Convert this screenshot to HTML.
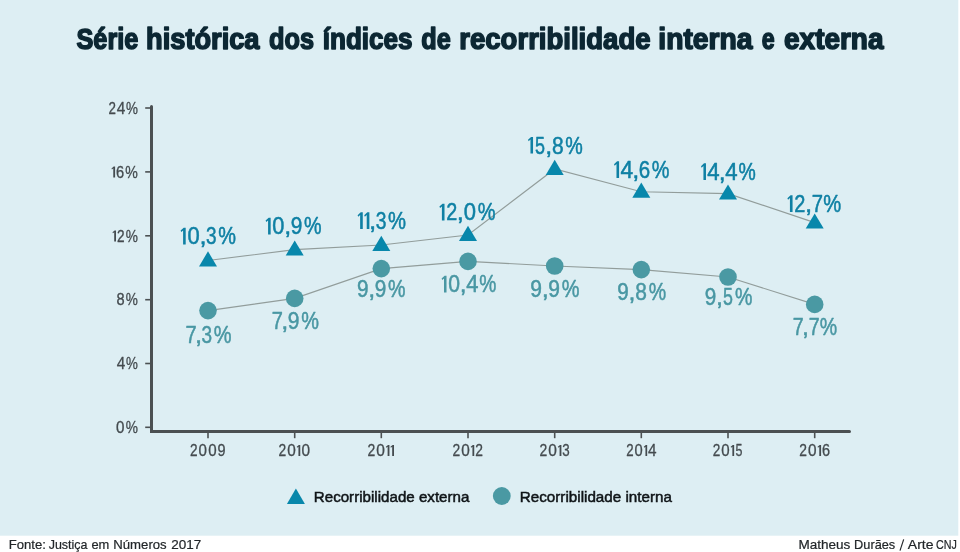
<!DOCTYPE html>
<html lang="pt-BR"><head><meta charset="utf-8"><title>Série histórica dos índices de recorribilidade interna e externa</title>
<style>html,body{margin:0;padding:0;background:#fff;}body{width:960px;height:552px;overflow:hidden;font-family:"Liberation Sans",sans-serif;}svg{display:block;will-change:transform;}text{font-family:"Liberation Sans",sans-serif;}</style></head><body>
<svg width="960" height="552" viewBox="0 0 960 552">
<rect x="0" y="0" width="958.3" height="535.7" fill="#ddeef3"/>
<g font-weight="bold" fill="#0c2733" stroke="#0c2733" stroke-width="1.6" stroke-linejoin="round">
<text x="76.50" y="49.40" font-size="30.0" fill="#0c2733" font-weight="bold" textLength="61.80" lengthAdjust="spacingAndGlyphs" >Série</text>
<text x="146.10" y="49.40" font-size="30.0" fill="#0c2733" font-weight="bold" textLength="113.40" lengthAdjust="spacingAndGlyphs" >histórica</text>
<text x="269.05" y="49.40" font-size="30.0" fill="#0c2733" font-weight="bold" textLength="44.95" lengthAdjust="spacingAndGlyphs" >dos</text>
<text x="322.80" y="49.40" font-size="30.0" fill="#0c2733" font-weight="bold" textLength="89.70" lengthAdjust="spacingAndGlyphs" >índices</text>
<text x="421.30" y="49.40" font-size="30.0" fill="#0c2733" font-weight="bold" textLength="29.45" lengthAdjust="spacingAndGlyphs" >de</text>
<text x="459.30" y="49.40" font-size="30.0" fill="#0c2733" font-weight="bold" textLength="191.20" lengthAdjust="spacingAndGlyphs" >recorribilidade</text>
<text x="658.30" y="49.40" font-size="30.0" fill="#0c2733" font-weight="bold" textLength="94.20" lengthAdjust="spacingAndGlyphs" >interna</text>
<text x="761.70" y="49.40" font-size="30.0" fill="#0c2733" font-weight="bold" textLength="12.90" lengthAdjust="spacingAndGlyphs" >e</text>
<text x="784.05" y="49.40" font-size="30.0" fill="#0c2733" font-weight="bold" textLength="99.45" lengthAdjust="spacingAndGlyphs" >externa</text>
</g>
<g stroke="#4b5052" fill="none" stroke-linecap="round">
<path d="M151.5 106.5 V431.4 H849.5" stroke-width="3" stroke-linejoin="miter"/>
<line x1="145.2" y1="108.0" x2="150" y2="108.0" stroke-width="1.6" stroke-linecap="butt"/>
<line x1="145.2" y1="171.9" x2="150" y2="171.9" stroke-width="1.6" stroke-linecap="butt"/>
<line x1="145.2" y1="235.8" x2="150" y2="235.8" stroke-width="1.6" stroke-linecap="butt"/>
<line x1="145.2" y1="299.7" x2="150" y2="299.7" stroke-width="1.6" stroke-linecap="butt"/>
<line x1="145.2" y1="363.5" x2="150" y2="363.5" stroke-width="1.6" stroke-linecap="butt"/>
<line x1="145.2" y1="427.3" x2="150" y2="427.3" stroke-width="1.6" stroke-linecap="butt"/>
<line x1="208.0" y1="432" x2="208.0" y2="438.2" stroke-width="1.6" stroke-linecap="butt"/>
<line x1="294.7" y1="432" x2="294.7" y2="438.2" stroke-width="1.6" stroke-linecap="butt"/>
<line x1="381.3" y1="432" x2="381.3" y2="438.2" stroke-width="1.6" stroke-linecap="butt"/>
<line x1="468.0" y1="432" x2="468.0" y2="438.2" stroke-width="1.6" stroke-linecap="butt"/>
<line x1="554.7" y1="432" x2="554.7" y2="438.2" stroke-width="1.6" stroke-linecap="butt"/>
<line x1="641.3" y1="432" x2="641.3" y2="438.2" stroke-width="1.6" stroke-linecap="butt"/>
<line x1="728.0" y1="432" x2="728.0" y2="438.2" stroke-width="1.6" stroke-linecap="butt"/>
<line x1="814.7" y1="432" x2="814.7" y2="438.2" stroke-width="1.6" stroke-linecap="butt"/>
</g>
<g transform="translate(109.00,113.70)" font-size="15.58" fill="#444b4f" stroke="#444b4f" stroke-width="0.3" stroke-linejoin="round"><text transform="matrix(0.8572 0 0 1 -0.52 0)">2</text><text transform="matrix(0.9889 0 0 1 7.66 0)">4</text><text transform="matrix(0.8624 0 0 1 16.88 0)">%</text></g>
<g transform="translate(111.50,177.60)" font-size="15.58" fill="#444b4f" stroke="#444b4f" stroke-width="0.3" stroke-linejoin="round"><path d="M2.19 -11.10 L3.60 -11.10 L3.60 0.00 L1.77 0.00 L1.77 -9.31 L0.46 -8.21 L0.00 -9.21Z" stroke="none"/><text transform="matrix(0.9408 0 0 1 4.49 0)">6</text><text transform="matrix(0.9077 0 0 1 13.78 0)">%</text></g>
<g transform="translate(112.50,241.50)" font-size="15.58" fill="#444b4f" stroke="#444b4f" stroke-width="0.3" stroke-linejoin="round"><path d="M2.12 -11.10 L3.49 -11.10 L3.49 0.00 L1.71 0.00 L1.71 -9.31 L0.45 -8.21 L0.00 -9.21Z" stroke="none"/><text transform="matrix(0.8742 0 0 1 4.60 0)">2</text><text transform="matrix(0.8792 0 0 1 13.15 0)">%</text></g>
<g transform="translate(117.00,305.40)" font-size="15.58" fill="#444b4f" stroke="#444b4f" stroke-width="0.3" stroke-linejoin="round"><text transform="matrix(0.9369 0 0 1 -0.48 0)">8</text><text transform="matrix(0.8741 0 0 1 8.72 0)">%</text></g>
<g transform="translate(117.00,369.20)" font-size="15.58" fill="#444b4f" stroke="#444b4f" stroke-width="0.3" stroke-linejoin="round"><text transform="matrix(0.9822 0 0 1 -0.20 0)">4</text><text transform="matrix(0.8566 0 0 1 8.96 0)">%</text></g>
<g transform="translate(116.50,433.00)" font-size="15.58" fill="#444b4f" stroke="#444b4f" stroke-width="0.3" stroke-linejoin="round"><text transform="matrix(0.9731 0 0 1 -0.44 0)">0</text><text transform="matrix(0.8810 0 0 1 9.13 0)">%</text></g>
<g transform="translate(190.50,456.00)" font-size="15.58" fill="#444b4f" stroke="#444b4f" stroke-width="0.3" stroke-linejoin="round"><text transform="matrix(0.8737 0 0 1 -0.53 0)">2</text><text transform="matrix(0.9705 0 0 1 8.05 0)">0</text><text transform="matrix(0.9705 0 0 1 17.63 0)">0</text><text transform="matrix(0.9282 0 0 1 26.99 0)">9</text></g>
<g transform="translate(279.00,456.00)" font-size="15.58" fill="#444b4f" stroke="#444b4f" stroke-width="0.3" stroke-linejoin="round"><text transform="matrix(0.8874 0 0 1 -0.55 0)">2</text><text transform="matrix(0.9856 0 0 1 8.17 0)">0</text><path d="M19.87 -11.10 L21.26 -11.10 L21.26 0.00 L19.45 0.00 L19.45 -9.31 L18.17 -8.21 L17.72 -9.21Z" stroke="none"/><text transform="matrix(0.9856 0 0 1 22.41 0)">0</text></g>
<g transform="translate(368.00,456.00)" font-size="15.58" fill="#444b4f" stroke="#444b4f" stroke-width="0.3" stroke-linejoin="round"><text transform="matrix(0.8955 0 0 1 -0.55 0)">2</text><text transform="matrix(0.9945 0 0 1 8.23 0)">0</text><path d="M20.04 -11.10 L21.44 -11.10 L21.44 0.00 L19.62 0.00 L19.62 -9.31 L18.33 -8.21 L17.87 -9.21Z" stroke="none"/><path d="M24.60 -11.10 L26.00 -11.10 L26.00 0.00 L24.18 0.00 L24.18 -9.31 L22.88 -8.21 L22.43 -9.21Z" stroke="none"/></g>
<g transform="translate(453.00,456.00)" font-size="15.58" fill="#444b4f" stroke="#444b4f" stroke-width="0.3" stroke-linejoin="round"><text transform="matrix(0.8865 0 0 1 -0.54 0)">2</text><text transform="matrix(0.9846 0 0 1 8.16 0)">0</text><path d="M19.85 -11.10 L21.24 -11.10 L21.24 0.00 L19.44 0.00 L19.44 -9.31 L18.15 -8.21 L17.70 -9.21Z" stroke="none"/><text transform="matrix(0.8865 0 0 1 22.36 0)">2</text></g>
<g transform="translate(540.00,456.00)" font-size="15.58" fill="#444b4f" stroke="#444b4f" stroke-width="0.3" stroke-linejoin="round"><text transform="matrix(0.8934 0 0 1 -0.55 0)">2</text><text transform="matrix(0.9923 0 0 1 8.22 0)">0</text><path d="M20.00 -11.10 L21.40 -11.10 L21.40 0.00 L19.58 0.00 L19.58 -9.31 L18.29 -8.21 L17.83 -9.21Z" stroke="none"/><text transform="matrix(0.8585 0 0 1 22.30 0)">3</text></g>
<g transform="translate(626.75,456.00)" font-size="15.58" fill="#444b4f" stroke="#444b4f" stroke-width="0.3" stroke-linejoin="round"><text transform="matrix(0.8508 0 0 1 -0.52 0)">2</text><text transform="matrix(0.9452 0 0 1 7.85 0)">0</text><path d="M19.09 -11.10 L20.42 -11.10 L20.42 0.00 L18.69 0.00 L18.69 -9.31 L17.45 -8.21 L17.02 -9.21Z" stroke="none"/><text transform="matrix(0.9817 0 0 1 21.29 0)">4</text></g>
<g transform="translate(713.25,456.00)" font-size="15.58" fill="#444b4f" stroke="#444b4f" stroke-width="0.3" stroke-linejoin="round"><text transform="matrix(0.8715 0 0 1 -0.53 0)">2</text><text transform="matrix(0.9681 0 0 1 8.03 0)">0</text><path d="M19.53 -11.10 L20.90 -11.10 L20.90 0.00 L19.12 0.00 L19.12 -9.31 L17.86 -8.21 L17.41 -9.21Z" stroke="none"/><text transform="matrix(0.8004 0 0 1 22.19 0)">5</text></g>
<g transform="translate(799.80,456.00)" font-size="15.58" fill="#444b4f" stroke="#444b4f" stroke-width="0.3" stroke-linejoin="round"><text transform="matrix(0.8884 0 0 1 -0.55 0)">2</text><text transform="matrix(0.9867 0 0 1 8.17 0)">0</text><path d="M19.89 -11.10 L21.28 -11.10 L21.28 0.00 L19.48 0.00 L19.48 -9.31 L18.19 -8.21 L17.74 -9.21Z" stroke="none"/><text transform="matrix(0.9255 0 0 1 22.16 0)">6</text></g>
<polyline points="208.0,260.5 294.7,249.6 381.3,245.0 468.0,235.0 554.7,169.0 641.3,191.7 728.0,193.6 814.7,222.6" fill="none" stroke="#929d9b" stroke-width="1.15"/>
<polyline points="208.0,310.6 294.7,298.4 381.3,268.6 468.0,261.4 554.7,266.0 641.3,269.6 728.0,277.0 814.7,304.4" fill="none" stroke="#929d9b" stroke-width="1.15"/>
<path d="M208.0 251.3 L217.0 266.5 H199.0 Z" fill="#0887ab"/>
<path d="M294.7 240.4 L303.7 255.6 H285.7 Z" fill="#0887ab"/>
<path d="M381.3 235.8 L390.3 251.0 H372.3 Z" fill="#0887ab"/>
<path d="M468.0 225.8 L477.0 241.0 H459.0 Z" fill="#0887ab"/>
<path d="M554.7 159.8 L563.7 175.0 H545.7 Z" fill="#0887ab"/>
<path d="M641.3 182.5 L650.3 197.7 H632.3 Z" fill="#0887ab"/>
<path d="M728.0 184.4 L737.0 199.6 H719.0 Z" fill="#0887ab"/>
<path d="M814.7 213.4 L823.7 228.6 H805.7 Z" fill="#0887ab"/>
<circle cx="208.0" cy="310.6" r="8.8" fill="#4a99a3"/>
<circle cx="294.7" cy="298.4" r="8.8" fill="#4a99a3"/>
<circle cx="381.3" cy="268.6" r="8.8" fill="#4a99a3"/>
<circle cx="468.0" cy="261.4" r="8.8" fill="#4a99a3"/>
<circle cx="554.7" cy="266.0" r="8.8" fill="#4a99a3"/>
<circle cx="641.3" cy="269.6" r="8.8" fill="#4a99a3"/>
<circle cx="728.0" cy="277.0" r="8.8" fill="#4a99a3"/>
<circle cx="814.7" cy="304.4" r="8.8" fill="#4a99a3"/>
<g transform="translate(180.60,244.40)" font-size="23.38" fill="#0f80a4" stroke="#0f80a4" stroke-width="0.5" stroke-linejoin="round"><path d="M3.10 -16.70 L5.10 -16.70 L5.10 0.00 L2.50 0.00 L2.50 -14.00 L0.65 -12.35 L0.00 -13.85Z" stroke="none"/><text transform="matrix(0.9396 0 0 1 6.79 0)">0</text><text transform="matrix(1.0897 0 0 1 18.86 0)">,</text><text transform="matrix(0.8120 0 0 1 25.43 0)">3</text><text transform="matrix(0.8526 0 0 1 37.54 0)">%</text></g>
<g transform="translate(265.60,234.40)" font-size="23.38" fill="#0f80a4" stroke="#0f80a4" stroke-width="0.5" stroke-linejoin="round"><path d="M3.07 -16.70 L5.05 -16.70 L5.05 0.00 L2.48 0.00 L2.48 -14.00 L0.64 -12.35 L0.00 -13.85Z" stroke="none"/><text transform="matrix(0.9309 0 0 1 6.73 0)">0</text><text transform="matrix(1.0780 0 0 1 18.70 0)">,</text><text transform="matrix(0.8899 0 0 1 25.24 0)">9</text><text transform="matrix(0.8447 0 0 1 38.50 0)">%</text></g>
<g transform="translate(357.60,229.00)" font-size="23.38" fill="#0f80a4" stroke="#0f80a4" stroke-width="0.5" stroke-linejoin="round"><path d="M3.15 -16.70 L5.18 -16.70 L5.18 0.00 L2.54 0.00 L2.54 -14.00 L0.66 -12.35 L0.00 -13.85Z" stroke="none"/><path d="M9.74 -16.70 L11.77 -16.70 L11.77 0.00 L9.13 0.00 L9.13 -14.00 L7.26 -12.35 L6.60 -13.85Z" stroke="none"/><text transform="matrix(1.1090 0 0 1 11.52 0)">,</text><text transform="matrix(0.8247 0 0 1 18.19 0)">3</text><text transform="matrix(0.8656 0 0 1 30.48 0)">%</text></g>
<g transform="translate(439.40,220.40)" font-size="23.38" fill="#0f80a4" stroke="#0f80a4" stroke-width="0.5" stroke-linejoin="round"><path d="M3.11 -16.70 L5.11 -16.70 L5.11 0.00 L2.50 0.00 L2.50 -14.00 L0.65 -12.35 L0.00 -13.85Z" stroke="none"/><text transform="matrix(0.8467 0 0 1 6.77 0)">2</text><text transform="matrix(1.0920 0 0 1 17.39 0)">,</text><text transform="matrix(0.9414 0 0 1 24.34 0)">0</text><text transform="matrix(0.8541 0 0 1 38.31 0)">%</text></g>
<g transform="translate(528.00,153.60)" font-size="23.38" fill="#0f80a4" stroke="#0f80a4" stroke-width="0.5" stroke-linejoin="round"><path d="M3.07 -16.70 L5.04 -16.70 L5.04 0.00 L2.47 0.00 L2.47 -14.00 L0.64 -12.35 L0.00 -13.85Z" stroke="none"/><text transform="matrix(0.7670 0 0 1 6.95 0)">5</text><text transform="matrix(1.0754 0 0 1 17.18 0)">,</text><text transform="matrix(0.9012 0 0 1 23.96 0)">8</text><text transform="matrix(0.8430 0 0 1 37.33 0)">%</text></g>
<g transform="translate(614.00,178.00)" font-size="23.38" fill="#0f80a4" stroke="#0f80a4" stroke-width="0.5" stroke-linejoin="round"><path d="M3.09 -16.70 L5.08 -16.70 L5.08 0.00 L2.49 0.00 L2.49 -14.00 L0.65 -12.35 L0.00 -13.85Z" stroke="none"/><text transform="matrix(0.9726 0 0 1 6.40 0)">4</text><text transform="matrix(1.0849 0 0 1 18.20 0)">,</text><text transform="matrix(0.8774 0 0 1 24.72 0)">6</text><text transform="matrix(0.8494 0 0 1 37.80 0)">%</text></g>
<g transform="translate(701.00,180.00)" font-size="23.38" fill="#0f80a4" stroke="#0f80a4" stroke-width="0.5" stroke-linejoin="round"><path d="M3.02 -16.70 L4.97 -16.70 L4.97 0.00 L2.44 0.00 L2.44 -14.00 L0.63 -12.35 L0.00 -13.85Z" stroke="none"/><text transform="matrix(0.9507 0 0 1 6.27 0)">4</text><text transform="matrix(1.0569 0 0 1 17.82 0)">,</text><text transform="matrix(0.9507 0 0 1 24.21 0)">4</text><text transform="matrix(0.8305 0 0 1 37.58 0)">%</text></g>
<g transform="translate(787.40,212.00)" font-size="23.38" fill="#0f80a4" stroke="#0f80a4" stroke-width="0.5" stroke-linejoin="round"><path d="M3.14 -16.70 L5.16 -16.70 L5.16 0.00 L2.53 0.00 L2.53 -14.00 L0.66 -12.35 L0.00 -13.85Z" stroke="none"/><text transform="matrix(0.8553 0 0 1 6.83 0)">2</text><text transform="matrix(1.1046 0 0 1 17.55 0)">,</text><text transform="matrix(0.8666 0 0 1 24.40 0)">7</text><text transform="matrix(0.8626 0 0 1 35.74 0)">%</text></g>
<g transform="translate(186.40,342.60)" font-size="23.38" fill="#4997a3" stroke="#4997a3" stroke-width="0.5" stroke-linejoin="round"><text transform="matrix(0.8584 0 0 1 -0.78 0)">7</text><text transform="matrix(1.0926 0 0 1 8.58 0)">,</text><text transform="matrix(0.8140 0 0 1 15.16 0)">3</text><text transform="matrix(0.8545 0 0 1 27.30 0)">%</text></g>
<g transform="translate(272.60,328.60)" font-size="23.38" fill="#4997a3" stroke="#4997a3" stroke-width="0.5" stroke-linejoin="round"><text transform="matrix(0.8563 0 0 1 -0.78 0)">7</text><text transform="matrix(1.0897 0 0 1 8.56 0)">,</text><text transform="matrix(0.8983 0 0 1 15.17 0)">9</text><text transform="matrix(0.8526 0 0 1 28.54 0)">%</text></g>
<g transform="translate(357.60,296.60)" font-size="23.38" fill="#4997a3" stroke="#4997a3" stroke-width="0.5" stroke-linejoin="round"><text transform="matrix(0.8865 0 0 1 -0.72 0)">9</text><text transform="matrix(1.0733 0 0 1 10.64 0)">,</text><text transform="matrix(0.8865 0 0 1 17.15 0)">9</text><text transform="matrix(0.8416 0 0 1 30.36 0)">%</text></g>
<g transform="translate(441.60,292.40)" font-size="23.38" fill="#4997a3" stroke="#4997a3" stroke-width="0.5" stroke-linejoin="round"><path d="M2.99 -16.70 L4.92 -16.70 L4.92 0.00 L2.41 0.00 L2.41 -14.00 L0.63 -12.35 L0.00 -13.85Z" stroke="none"/><text transform="matrix(0.9047 0 0 1 6.56 0)">0</text><text transform="matrix(1.0433 0 0 1 18.22 0)">,</text><text transform="matrix(0.9401 0 0 1 24.53 0)">4</text><text transform="matrix(0.8214 0 0 1 37.76 0)">%</text></g>
<g transform="translate(531.00,297.00)" font-size="23.38" fill="#4997a3" stroke="#4997a3" stroke-width="0.5" stroke-linejoin="round"><text transform="matrix(0.8983 0 0 1 -0.73 0)">9</text><text transform="matrix(1.0897 0 0 1 10.76 0)">,</text><text transform="matrix(0.8983 0 0 1 17.37 0)">9</text><text transform="matrix(0.8526 0 0 1 30.74 0)">%</text></g>
<g transform="translate(618.00,300.40)" font-size="23.38" fill="#4997a3" stroke="#4997a3" stroke-width="0.5" stroke-linejoin="round"><text transform="matrix(0.8827 0 0 1 -0.72 0)">9</text><text transform="matrix(1.0680 0 0 1 10.60 0)">,</text><text transform="matrix(0.8958 0 0 1 17.34 0)">8</text><text transform="matrix(0.8380 0 0 1 30.63 0)">%</text></g>
<g transform="translate(705.40,305.00)" font-size="23.38" fill="#4997a3" stroke="#4997a3" stroke-width="0.5" stroke-linejoin="round"><text transform="matrix(0.8824 0 0 1 -0.72 0)">9</text><text transform="matrix(1.0676 0 0 1 10.59 0)">,</text><text transform="matrix(0.7621 0 0 1 17.63 0)">5</text><text transform="matrix(0.8377 0 0 1 29.64 0)">%</text></g>
<g transform="translate(793.60,335.40)" font-size="23.38" fill="#4997a3" stroke="#4997a3" stroke-width="0.5" stroke-linejoin="round"><text transform="matrix(0.8398 0 0 1 -0.76 0)">7</text><text transform="matrix(1.0658 0 0 1 8.42 0)">,</text><text transform="matrix(0.8398 0 0 1 15.05 0)">7</text><text transform="matrix(0.8365 0 0 1 26.06 0)">%</text></g>
<path d="M295.9 488.5 L304.9 504 H286.9 Z" fill="#0887ab"/>
<circle cx="501.8" cy="496" r="8.9" fill="#4a99a3"/>
<text x="313.80" y="502.20" font-size="15.3" fill="#0f1417" font-weight="normal" textLength="155.60" lengthAdjust="spacingAndGlyphs" stroke="#0f1417" stroke-width="0.5">Recorribilidade externa</text>
<text x="519.80" y="502.20" font-size="15.3" fill="#0f1417" font-weight="normal" textLength="152.20" lengthAdjust="spacingAndGlyphs" stroke="#0f1417" stroke-width="0.5">Recorribilidade interna</text>
<text x="8.70" y="549.30" font-size="13.5" fill="#222629" font-weight="normal" textLength="37.20" lengthAdjust="spacingAndGlyphs" stroke="#222629" stroke-width="0.22">Fonte:</text>
<text x="48.70" y="549.30" font-size="13.5" fill="#222629" font-weight="normal" textLength="38.80" lengthAdjust="spacingAndGlyphs" stroke="#222629" stroke-width="0.22">Justiça</text>
<text x="91.40" y="549.30" font-size="13.5" fill="#222629" font-weight="normal" textLength="17.90" lengthAdjust="spacingAndGlyphs" stroke="#222629" stroke-width="0.22">em</text>
<text x="113.30" y="549.30" font-size="13.5" fill="#222629" font-weight="normal" textLength="53.40" lengthAdjust="spacingAndGlyphs" stroke="#222629" stroke-width="0.22">Números</text>
<text x="171.20" y="549.30" font-size="13.5" fill="#222629" font-weight="normal" textLength="30.00" lengthAdjust="spacingAndGlyphs" stroke="#222629" stroke-width="0.22">2017</text>
<text x="798.40" y="549.30" font-size="13.5" fill="#222629" font-weight="normal" textLength="51.90" lengthAdjust="spacingAndGlyphs" stroke="#222629" stroke-width="0.22">Matheus</text>
<text x="854.10" y="549.30" font-size="13.5" fill="#222629" font-weight="normal" textLength="41.10" lengthAdjust="spacingAndGlyphs" stroke="#222629" stroke-width="0.22">Durães</text>
<line x1="900.0" y1="550.6" x2="903.7" y2="539.4" stroke="#222629" stroke-width="1.15"/>
<text x="907.80" y="549.30" font-size="13.5" fill="#222629" font-weight="normal" textLength="25.70" lengthAdjust="spacingAndGlyphs" stroke="#222629" stroke-width="0.22">Arte</text>
<text x="936.10" y="549.30" font-size="13.5" fill="#222629" font-weight="normal" textLength="20.80" lengthAdjust="spacingAndGlyphs" stroke="#222629" stroke-width="0.22">CNJ</text>
</svg></body></html>
